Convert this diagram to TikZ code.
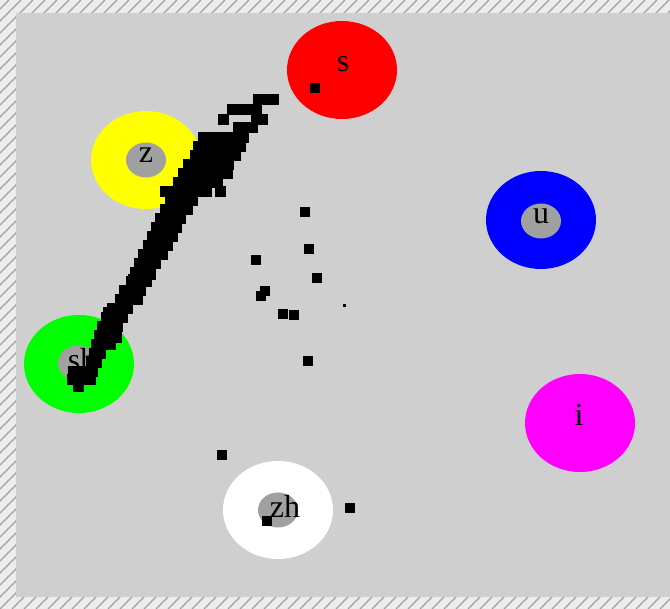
\documentclass[tikz,border=0pt]{standalone}
\usepackage{fontspec}
\setmainfont{Liberation Serif}
\usetikzlibrary{shapes.geometric}
\definecolor{field}{RGB}{207,207,207}
\definecolor{coregray}{RGB}{160,160,160}
\definecolor{hatchbase}{RGB}{236,236,236}
\definecolor{hatchline}{RGB}{160,160,160}
\definecolor{tgtred}{RGB}{255,0,0}
\definecolor{tgtyellow}{RGB}{255,255,0}
\definecolor{tgtgreen}{RGB}{0,255,0}
\definecolor{tgtblue}{RGB}{0,0,255}
\definecolor{tgtmagenta}{RGB}{255,0,255}
\tikzset{
  spot/.style ={ellipse, minimum width=110pt, minimum height=98pt, inner sep=0pt},
  core/.style ={ellipse, fill=coregray, minimum width=40pt, minimum height=35pt, inner sep=0pt},
  lbl/.style  ={inner sep=0pt, font=\fontsize{32}{34}\selectfont},
  dot/.style  ={fill=black},
  hatch/.style={draw=hatchline, line width=1.3pt},
}
\begin{document}
\begin{tikzpicture}[x=1pt, y=-1pt]
  \useasboundingbox (0,0) rectangle (670,609);
  % frame and field
  \fill[hatchbase] (0,0) rectangle (670,609);
  \begin{scope}
    \clip (0,0) rectangle (670,609);
    \foreach \k in {-624,-612,...,672}{\draw[hatch] (\k,609) -- (\k+609,0);}
  \end{scope}
  \fill[field] (16,13) rectangle (670,597);

  % phoneme targets
  \node[spot, fill=tgtred]     (s)  at (342,70)  {};
  \node[spot, fill=tgtyellow]  (z)  at (146,160) {};
  \node[spot, fill=tgtblue]    (u)  at (541,220) {};
  \node[spot, fill=tgtgreen]   (sh) at (79,364)  {};
  \node[spot, fill=tgtmagenta] (i)  at (580,423) {};
  \node[spot, fill=white]      (zh) at (278,510) {};

  \node[core] (z-core)  at (z)  {};
  \node[core] (u-core)  at (541,221) {};
  \node[core] (sh-core) at (78,363) {};
  \node[core] (zh-core) at (zh) {};

  \node[lbl] (s-lbl)  at (343,64)  {s};
  \node[lbl] (z-lbl)  at (146,155) {z};
  \node[lbl] (u-lbl)  at (541,216) {u};
  \node[lbl] (sh-lbl) at (82,360)  {sh};
  \node[lbl] (i-lbl)  at (579,415) {i};
  \node[lbl] (zh-lbl) at (285,506) {zh};

  % trajectory samples
  \foreach \yy/\xl in {100/{258,266,273}, 110/{232,240,250,256}, 120/{223,256,262},
      128/{238,246,252}, 138/{203,211,219,227,235,243}, 147/{198,206,214,222,230,240},
      156/{195,203,211,219,227,235}, 165/{188,196,204,212,220,228},
      174/{183,191,199,207,215,222,227}, 183/{178,186,194,202,210,217},
      192/{165,174,182,190,198,206,220}, 201/{170,178,186,192}, 210/{165,173,181,187},
      219/{160,168,176,180}, 228/{156,164,172,176}, 237/{152,160,168,172},
      246/{148,156,163,167}, 255/{143,151,158,162}, 264/{139,147,155},
      273/{135,143,150}, 282/{131,139,146}, 291/{124,132,140}, 300/{120,128,137},
      309/{112,120,127}, 318/{106,114,122}, 327/{102,110,117}, 336/{99,107,112},
      345/{96,103,110}, 354/{94,100}, 363/{91,96}, 372/{73,81,89,92},
      380/{72,80,90}, 387/{78}}
    \foreach \xx in \xl {\fill[dot] (\xx-5.5,\yy-5.5) rectangle +(11,11);}
  \foreach \xx/\yy in {133/280, 150/275, 137/297, 108/313, 105/340, 116/338}
    {\fill[dot] (\xx-5.5,\yy-5.5) rectangle +(11,11);}

  \foreach \xx/\yy in {315/88, 305/212, 309/249, 256/260, 317/278, 265/291, 261/296,
      283/314, 294/315, 308/361, 222/455, 350/508, 267/521}
    {\fill[dot] (\xx-5,\yy-5) rectangle +(10,10);}
  \fill[dot] (342.5,304.5) rectangle +(3,3);
\end{tikzpicture}
\end{document}
